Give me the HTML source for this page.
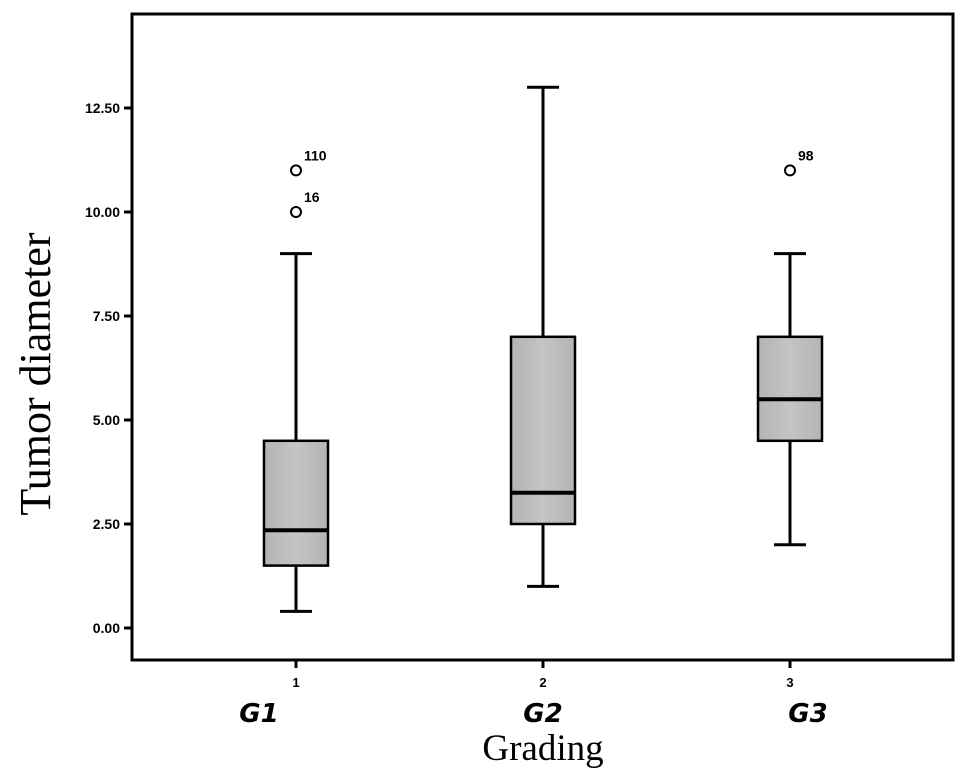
<!DOCTYPE html>
<html><head><meta charset="utf-8"><style>
html,body{margin:0;padding:0;background:#fff;}
svg{display:block;}
</style></head><body>
<svg id="chart" width="969" height="783" viewBox="0 0 969 783" xmlns="http://www.w3.org/2000/svg">
<defs>
<linearGradient id="boxg" x1="0" y1="0" x2="1" y2="0">
<stop offset="0" stop-color="#b4b4b4"/><stop offset="0.5" stop-color="#c4c4c4"/><stop offset="1" stop-color="#b4b4b4"/>
</linearGradient>
</defs>
<rect x="132" y="14" width="821" height="646" fill="none" stroke="#000" stroke-width="3"/>
<g id="yaxis"></g>
<g id="xaxis"></g>
<g id="boxes"></g>
<text x="50" y="374" transform="rotate(-90 50 374)" text-anchor="middle" font-family="Liberation Serif, serif" font-size="44">Tumor diameter</text>
<text x="543" y="760" text-anchor="middle" font-family="Liberation Serif, serif" font-size="37">Grading</text>
</svg>
<script>
const categories = ["1","2","3"];
const groupLabels = ["G1","G2","G3"];
const whiskerLow = [0.4, 1, 2];
const q1 = [1.5, 2.5, 4.5];
const medians = [2.35, 3.25, 5.5];
const q3 = [4.5, 7, 7];
const whiskerHigh = [9, 13, 9];
const outlierValues = [[11, 10], [], [11]];
const outlierIds = [["110", "16"], [], ["98"]];
const yTicks = [0, 2.5, 5, 7.5, 10, 12.5];
const yTickLabels = ["0.00","2.50","5.00","7.50","10.00","12.50"];

const NS = "http://www.w3.org/2000/svg";
const labelShift = [-37, 0, 18];
function y(v){ return 628 - v * 41.6; }
function x(i){ return 296 + i * 247; }
function mk(tag, attrs, parent){
  const e = document.createElementNS(NS, tag);
  for (const k in attrs) e.setAttribute(k, attrs[k]);
  parent.appendChild(e); return e;
}
const ya = document.getElementById('yaxis');
yTicks.forEach((t, i) => {
  const l = mk('line', {x1:124, x2:132, y1:y(t), y2:y(t), stroke:'#000', 'stroke-width':3}, ya);
  
  
  const tx = mk('text', {x:120, y:y(t)+5, 'text-anchor':'end', 'font-family':'Liberation Sans, sans-serif', 'font-size':14, 'font-weight':'bold'}, ya);
  tx.textContent = yTickLabels[i];
  
  
});
const xa = document.getElementById('xaxis');
categories.forEach((c, i) => {
  const l = mk('line', {x1:x(i), x2:x(i), y1:660, y2:668, stroke:'#000', 'stroke-width':3}, xa);
  
  
  const tx = mk('text', {x:x(i), y:687, 'text-anchor':'middle', 'font-family':'Liberation Sans, sans-serif', 'font-size':13, 'font-weight':'bold'}, xa);
  tx.textContent = c;
  
  
  const g = mk('text', {x:x(i)+labelShift[i], y:722, 'text-anchor':'middle', 'font-family':'DejaVu Sans, sans-serif', 'font-size':26, 'font-weight':'bold', 'font-style':'italic'}, xa);
  g.textContent = groupLabels[i];
  
  
});
const bx = document.getElementById('boxes');
const bw = 64, cw = 32;
categories.forEach((c, i) => {
  const cx = x(i);
  const g = mk('g', {}, bx);
  
  
  mk('line', {x1:cx, x2:cx, y1:y(whiskerLow[i]), y2:y(q1[i]), stroke:'#000', 'stroke-width':3}, g);
  mk('line', {x1:cx, x2:cx, y1:y(q3[i]), y2:y(whiskerHigh[i]), stroke:'#000', 'stroke-width':3}, g);
  mk('line', {x1:cx-cw/2, x2:cx+cw/2, y1:y(whiskerLow[i]), y2:y(whiskerLow[i]), stroke:'#000', 'stroke-width':3}, g);
  mk('line', {x1:cx-cw/2, x2:cx+cw/2, y1:y(whiskerHigh[i]), y2:y(whiskerHigh[i]), stroke:'#000', 'stroke-width':3}, g);
  mk('rect', {x:cx-bw/2, y:y(q3[i]), width:bw, height:y(q1[i])-y(q3[i]), fill:'url(#boxg)', stroke:'#000', 'stroke-width':2.5}, g);
  mk('line', {x1:cx-bw/2, x2:cx+bw/2, y1:y(medians[i]), y2:y(medians[i]), stroke:'#000', 'stroke-width':4}, g);
  outlierValues[i].forEach((v, j) => {
    const o = mk('circle', {cx:cx, cy:y(v), r:5, fill:'#fff', stroke:'#000', 'stroke-width':2}, g);
    
    
    const t = mk('text', {x:cx+8, y:y(v)-10, 'font-family':'Liberation Sans, sans-serif', 'font-size':14, 'font-weight':'bold'}, g);
    t.textContent = outlierIds[i][j];
    
    
  });
});
</script>
</body></html>
